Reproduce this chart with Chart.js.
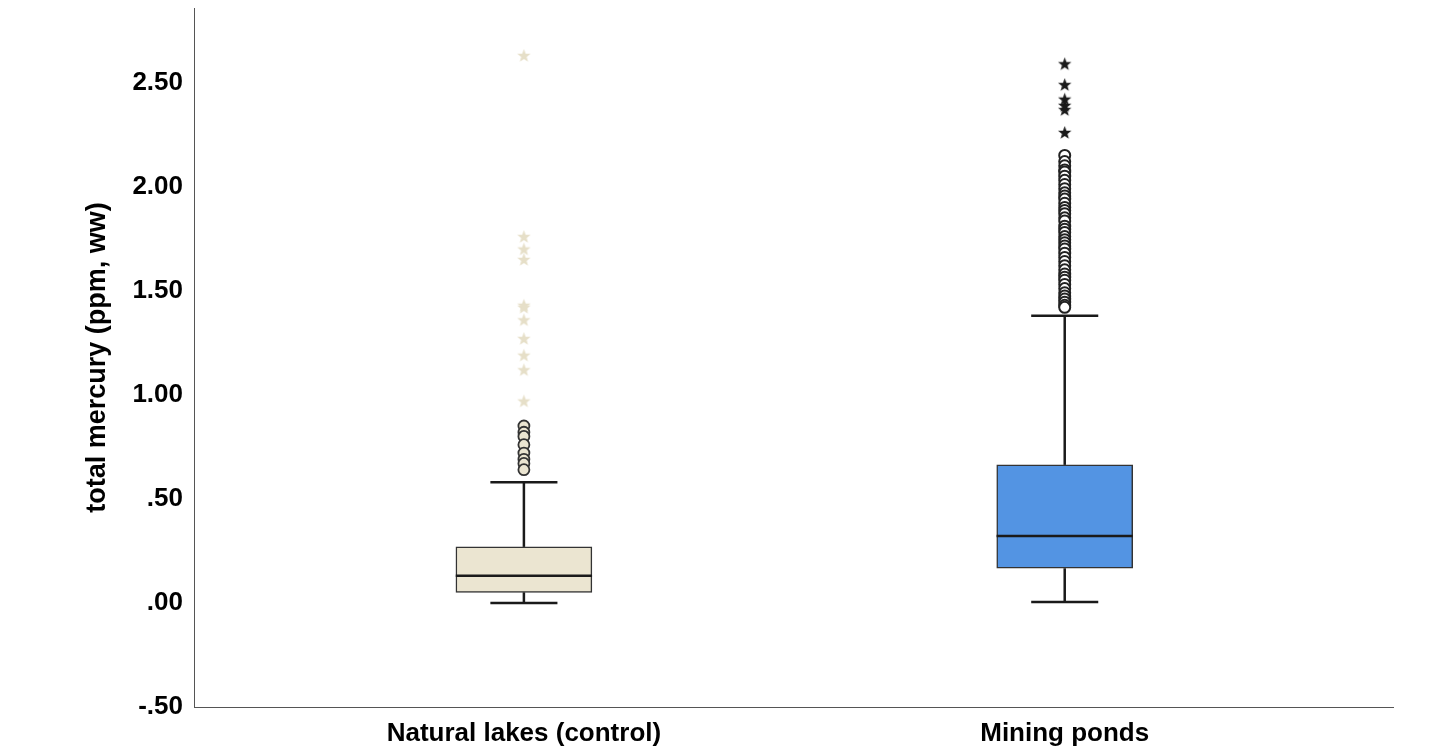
<!DOCTYPE html>
<html>
<head>
<meta charset="utf-8">
<script src="https://cdn.jsdelivr.net/npm/chart.js@4.4.1/dist/chart.umd.min.js"></script>
<style>
html, body { margin: 0; padding: 0; background: #fff; }
</style>
</head>
<body>
<canvas id="boxChart" width="1433" height="746"></canvas>
<script>
var groups = ["Natural lakes (control)", "Mining ponds"];
var yTicks = [-0.5, 0, 0.5, 1, 1.5, 2, 2.5];
var yTickLabels = ["-.50", ".00", ".50", "1.00", "1.50", "2.00", "2.50"];

// five number summary per group
var lowerWhisker = [0.00, 0.005];
var q1 = [0.051, 0.167];
var median = [0.130, 0.322];
var q3 = [0.269, 0.663];
var upperWhisker = [0.580, 1.380];

// outliers (circles) and extremes (stars)
var lakesCircles = [0.85, 0.82, 0.80, 0.76, 0.72, 0.69, 0.67, 0.64];
var lakesStars = [2.63, 1.76, 1.70, 1.65, 1.43, 1.42, 1.36, 1.27, 1.19, 1.12, 0.97];
var pondsCircles = [2.15, 2.12, 2.10, 2.08, 2.07, 2.05, 2.03, 2.01, 1.99, 1.97, 1.955, 1.94,
    1.92, 1.90, 1.885, 1.87, 1.85, 1.835, 1.81, 1.795, 1.78, 1.76, 1.745, 1.73, 1.715, 1.70,
    1.68, 1.66, 1.64, 1.62, 1.60, 1.58, 1.565, 1.55, 1.53, 1.51, 1.49, 1.475, 1.46, 1.445,
    1.43, 1.42];
var pondsStars = [2.59, 2.49, 2.42, 2.39, 2.37, 2.26];

var boxColors = ['#ebe5d1', '#5394e3'];
var boxHalf = 0.126;
var capHalf = 0.062;
var fontFamily = '"Liberation Sans", Arial, sans-serif';

function makeStar(color) {
    var c = document.createElement('canvas');
    c.width = 15;
    c.height = 15;
    var g = c.getContext('2d');
    g.beginPath();
    for (var i = 0; i < 10; i++) {
        var r = i % 2 == 0 ? 7 : 2.9;
        var a = -Math.PI / 2 + i * Math.PI / 5;
        g.lineTo(7.5 + r * Math.cos(a), 8 + r * Math.sin(a));
    }
    g.closePath();
    g.fillStyle = color;
    g.fill();
    return c;
}

function segment(x1, y1, x2, y2, width, order) {
    return {
        type: 'line',
        data: [{x: x1, y: y1}, {x: x2, y: y2}],
        borderColor: '#1a1a1a',
        borderWidth: width,
        pointRadius: 0,
        order: order
    };
}

function points(i, values, style, fill, border, radius, bw) {
    return {
        type: 'scatter',
        data: values.map(v => ({x: i, y: v})),
        pointStyle: style,
        pointRadius: radius,
        backgroundColor: fill,
        borderColor: border,
        borderWidth: bw,
        order: 1
    };
}

var datasets = [];
datasets.push({
    type: 'bar',
    data: groups.map((g, i) => ({x: i, y: [q1[i], q3[i]]})),
    backgroundColor: boxColors,
    borderColor: '#333',
    borderWidth: 1.5,
    borderSkipped: false,
    barThickness: 136,
    order: 3
});
for (var i = 0; i < groups.length; i++) {
    datasets.push(segment(i - boxHalf, median[i], i + boxHalf, median[i], 2.5, 0));
    datasets.push(segment(i, q3[i], i, upperWhisker[i], 2.5, 4));
    datasets.push(segment(i, q1[i], i, lowerWhisker[i], 2.5, 4));
    datasets.push(segment(i - capHalf, upperWhisker[i], i + capHalf, upperWhisker[i], 2.5, 4));
    datasets.push(segment(i - capHalf, lowerWhisker[i], i + capHalf, lowerWhisker[i], 2.5, 4));
}
datasets.push(points(0, lakesStars, makeStar('#e6dfc8'), '#e6dfc8', '#e6dfc8', 7, 1));
datasets.push(points(0, lakesCircles, 'circle', '#ebe5d1', '#333', 5.5, 1.8));
datasets.push(points(1, pondsCircles, 'circle', '#fff', '#222', 5.5, 2));
datasets.push(points(1, pondsStars, makeStar('#1a1a1a'), '#1a1a1a', '#1a1a1a', 7, 1));

new Chart(document.getElementById('boxChart'), {
    type: 'bar',
    data: {datasets: datasets},
    options: {
        responsive: false,
        animation: false,
        layout: {padding: {top: 4, right: 40, left: 0, bottom: 0}},
        plugins: {legend: {display: false}, tooltip: {enabled: false}},
        scales: {
            x: {
                type: 'linear',
                offset: false,
                min: -0.61,
                max: 1.607,
                grid: {display: false},
                border: {display: true, color: '#555', width: 1},
                afterBuildTicks: function(scale) {
                    scale.ticks = groups.map((g, i) => ({value: i}));
                },
                afterFit: function(scale) {
                    scale.height = 39;
                    scale.paddingLeft = 0;
                    scale.paddingRight = 0;
                },
                ticks: {
                    padding: 3,
                    color: '#000',
                    maxRotation: 0,
                    font: {family: fontFamily, size: 26, weight: 'bold'},
                    callback: function(v) { return groups[v]; }
                }
            },
            y: {
                type: 'linear',
                min: -0.5,
                max: 2.858,
                grid: {display: false},
                border: {display: true, color: '#555', width: 1},
                afterBuildTicks: function(scale) {
                    scale.ticks = yTicks.map(v => ({value: v}));
                },
                afterFit: function(scale) {
                    scale.width = 194;
                    scale.paddingTop = 0;
                    scale.paddingBottom = 0;
                },
                ticks: {
                    padding: 3,
                    color: '#000',
                    font: {family: fontFamily, size: 26, weight: 'bold'},
                    callback: function(v) { return yTickLabels[yTicks.indexOf(v)]; }
                },
                title: {
                    display: true,
                    text: 'total mercury (ppm, ww)',
                    color: '#000',
                    padding: {top: 81, bottom: 0},
                    font: {family: fontFamily, size: 27, weight: 'bold'}
                }
            }
        }
    }
});
</script>
</body>
</html>
